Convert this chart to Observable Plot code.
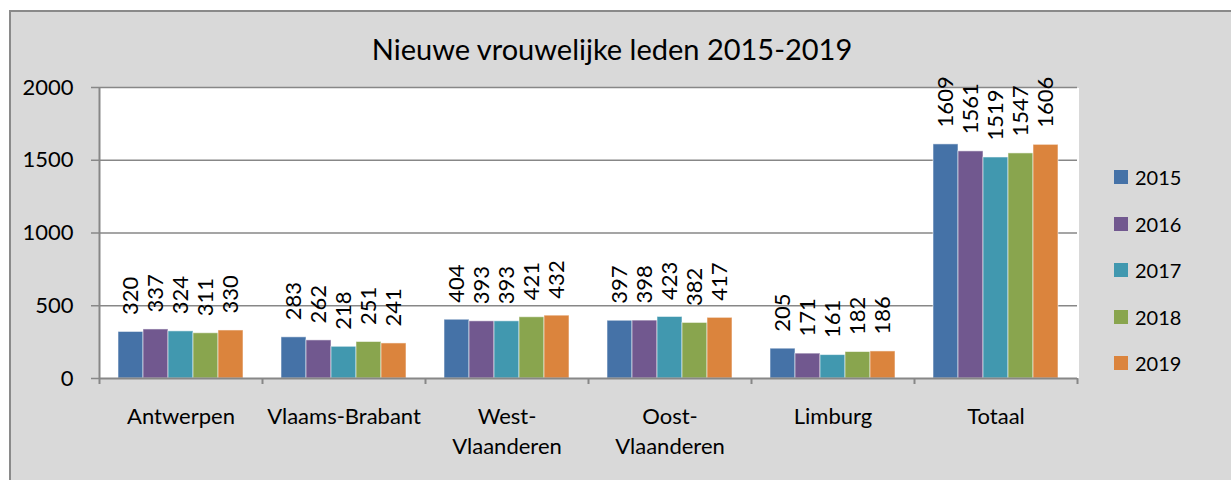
<!DOCTYPE html>
<html>
<head>
<meta charset="utf-8">
<script src="https://cdn.jsdelivr.net/npm/d3@7"></script>
<script src="https://cdn.jsdelivr.net/npm/@observablehq/plot@0.6"></script>
<style>
  html, body { margin: 0; padding: 0; background: #fff; }
  #wrap { position: relative; width: 1231px; height: 480px; overflow: hidden; font-family: Lato, "Open Sans", sans-serif; }
  #panel { position: absolute; left: 9px; top: 10px; width: 1300px; height: 520px; background: #d9d9d9;
           border-left: 2px solid #8a8a8a; border-top: 2px solid #8a8a8a; }
  #title { position: absolute; left: 0; top: 34px; width: 1224px; text-align: center; font-size: 29px; line-height: 30px; color: #000; }
  #chart { position: absolute; left: 0; top: 0; }
  #legend { position: absolute; left: 1114px; top: 163px; display: flex; flex-direction: column; gap: 18.5px; }
  .item { display: flex; align-items: center; height: 28px; font-size: 20px; color: #000; }
  .sw { width: 14px; height: 14px; margin-right: 7px; }
</style>
</head>
<body>
<div id="wrap">
  <div id="panel"></div>
  <div id="title"></div>
  <div id="chart"></div>
  <div id="legend"></div>
</div>
<script>
const title = "Nieuwe vrouwelijke leden 2015-2019";
const categories = ["Antwerpen", "Vlaams-Brabant", "West-Vlaanderen", "Oost-Vlaanderen", "Limburg", "Totaal"];
const categoryLabels = ["Antwerpen", "Vlaams-Brabant", "West-\nVlaanderen", "Oost-\nVlaanderen", "Limburg", "Totaal"];
const years = ["2015", "2016", "2017", "2018", "2019"];
const values2015 = [320, 283, 404, 397, 205, 1609];
const values2016 = [337, 262, 393, 398, 171, 1561];
const values2017 = [324, 218, 393, 423, 161, 1519];
const values2018 = [311, 251, 421, 382, 182, 1547];
const values2019 = [330, 241, 432, 417, 186, 1606];
const colors = ["#4572a7", "#71588f", "#4198af", "#89a54e", "#db843d"];
const yTicks = [0, 500, 1000, 1500, 2000];

const series = [values2015, values2016, values2017, values2018, values2019];
const data = [];
categories.forEach((c, i) => years.forEach((y, j) => data.push({cat: c, year: y, value: series[j][i]})));
const labelOf = new Map(categories.map((c, i) => [c, categoryLabels[i]]));

document.getElementById("title").textContent = title;

const gridColor = "#878787";
const plot = Plot.plot({
  width: 1231,
  height: 480,
  marginLeft: 99,
  marginRight: 154,
  marginTop: 87,
  marginBottom: 102,
  style: {background: "transparent", fontFamily: "Lato, 'Open Sans', sans-serif", fontSize: "22px", color: "#000", overflow: "visible"},
  fx: {domain: categories, padding: 0, label: null},
  x: {domain: years, paddingInner: 0, paddingOuter: 0.76, axis: null},
  y: {domain: [0, 2000], label: null},
  color: {domain: years, range: colors},
  marks: [
    Plot.frame({fill: "white", stroke: "none", insetRight: -1, shapeRendering: "crispEdges"}),
    Plot.gridY(yTicks.filter(t => t > 0), {stroke: gridColor, strokeOpacity: 1, strokeWidth: 1.5}),
    Plot.barY(data, {fx: "cat", x: "year", y: "value", fill: "year", stroke: "white", strokeOpacity: 0.55, strokeWidth: 1}),
    Plot.text(data, {fx: "cat", x: "year", y: "value", text: d => String(d.value), rotate: -90,
      textAnchor: "start", lineAnchor: "middle", dy: -17, fontSize: 22, fill: "#000"}),
    Plot.ruleY([0], {stroke: gridColor, strokeWidth: 2}),
    Plot.ruleX([categories[0]], {fx: d => d, x: () => years[0], dx: -31.5, y1: () => 2000, y2: () => 0, insetBottom: -6, stroke: gridColor, strokeWidth: 2}),
    Plot.ruleX(categories, {fx: d => d, x: () => years[4], dx: 31.5, y1: () => 0, y2: () => 0, insetBottom: -6, stroke: gridColor, strokeWidth: 2}),
    Plot.axisY({ticks: yTicks, tickSize: 8, tickPadding: 18, fontSize: 22, stroke: gridColor, fill: "#000", strokeWidth: 1.5, tickFormat: d => String(d), label: null}),
    Plot.axisFx({anchor: "bottom", tickSize: 0, tickPadding: 24, fontSize: 22, lineHeight: 1.36, fill: "#000", tickFormat: d => labelOf.get(d), label: null})
  ]
});
document.getElementById("chart").appendChild(plot);

const legend = document.getElementById("legend");
years.forEach((y, j) => {
  const item = document.createElement("div");
  item.className = "item";
  const sw = document.createElement("span");
  sw.className = "sw";
  sw.style.background = colors[j];
  const t = document.createElement("span");
  t.textContent = y;
  item.appendChild(sw);
  item.appendChild(t);
  legend.appendChild(item);
});
</script>
</body>
</html>
